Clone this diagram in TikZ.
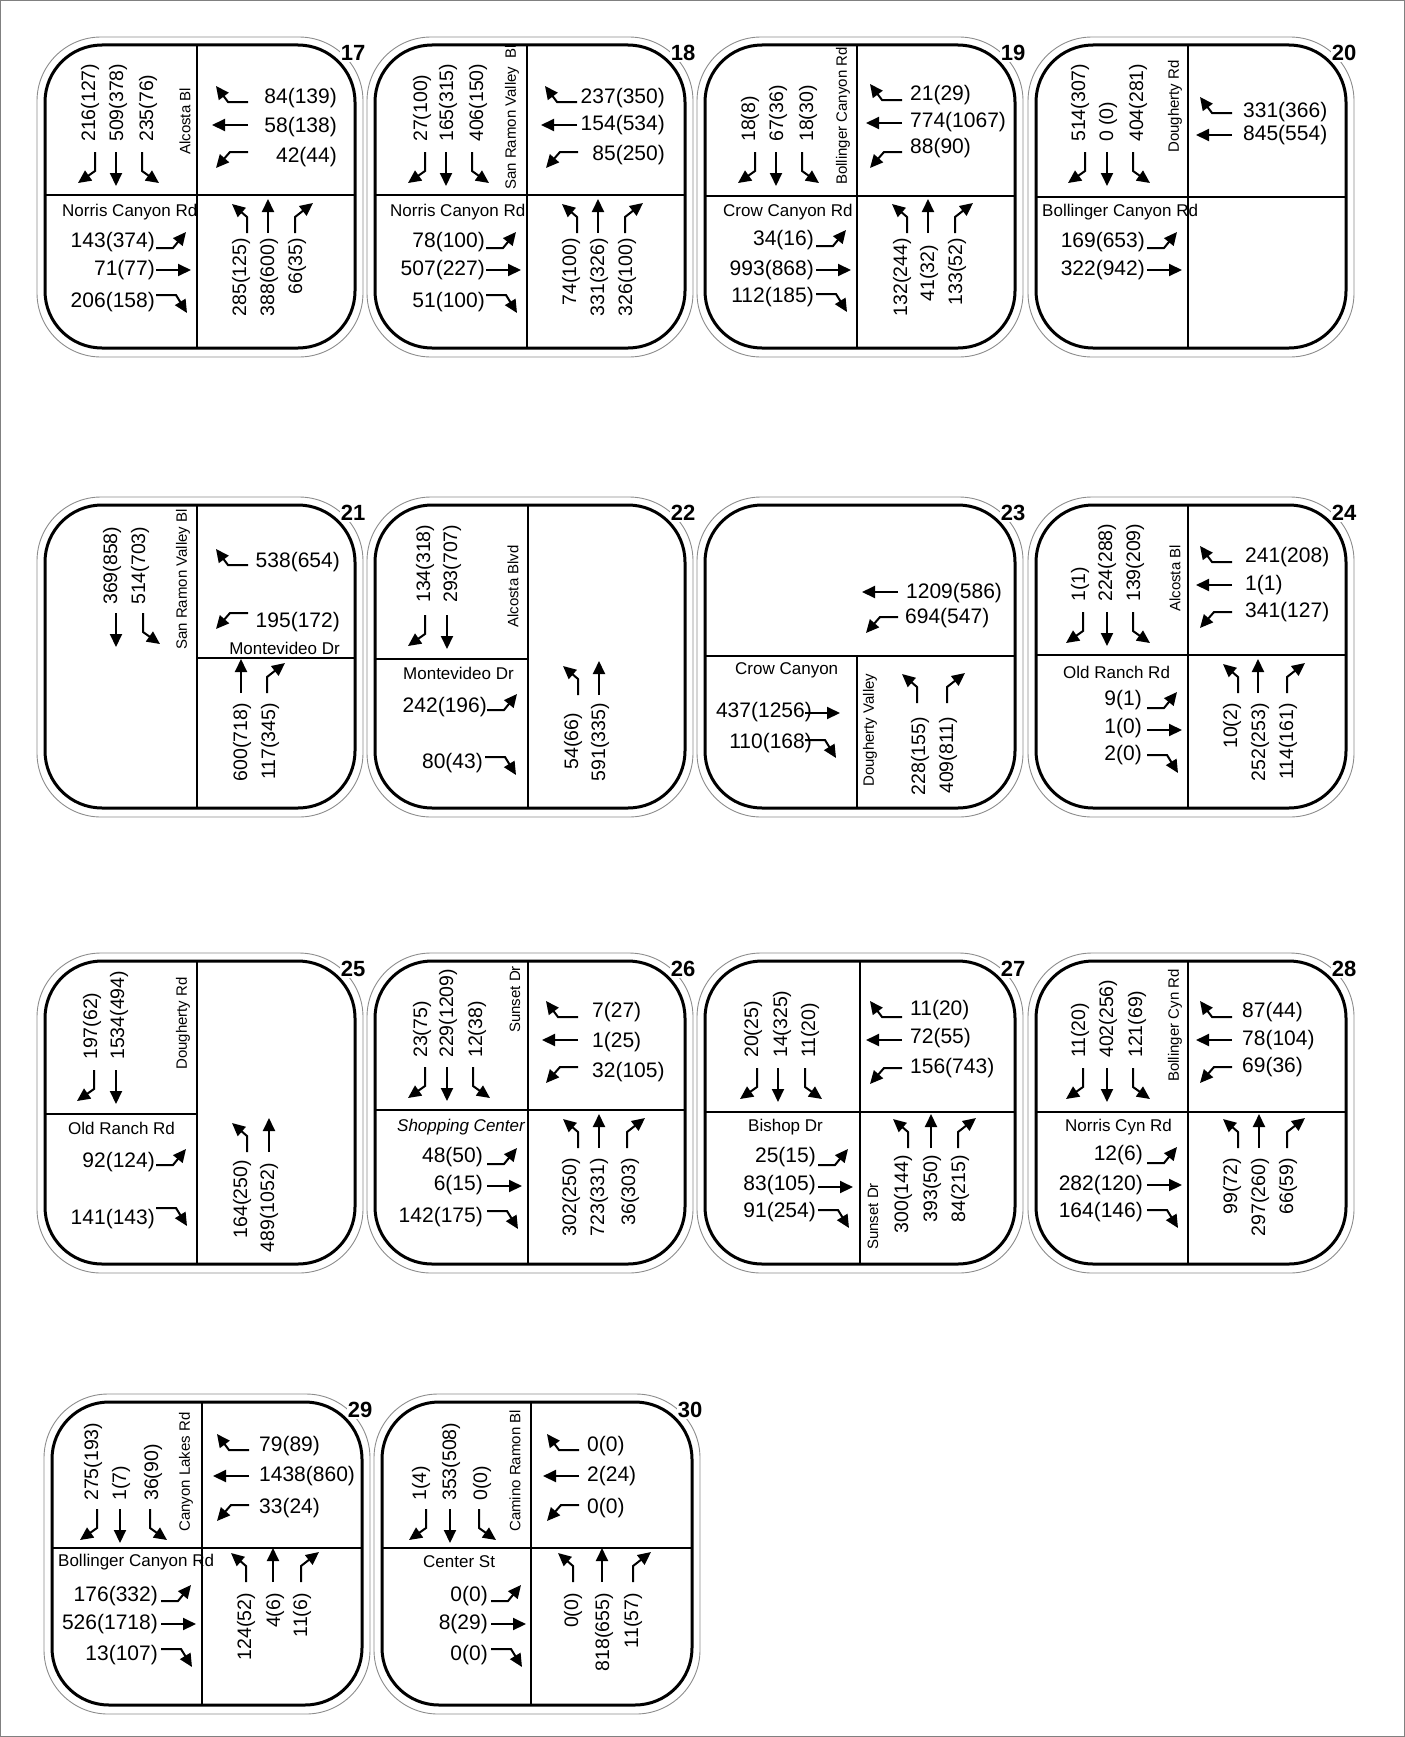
\documentclass[tikz,border=0pt]{standalone}
\usepackage{fontspec}
\setmainfont{Liberation Sans}
\usetikzlibrary{arrows.meta}

\begin{document}
\begin{tikzpicture}[
    x=1pt, y=-1pt,
    frm/.style={draw=black!45, line width=0.9pt, rounded corners=64pt},
    box/.style={draw, line width=3pt, rounded corners=57pt},
    dv/.style={line width=2.3pt},
    mv/.style={line width=2pt, -{Triangle[length=13pt,width=12pt]}},
    pno/.style={fill=white, inner sep=1pt, font=\bfseries\fontsize{22}{24}\selectfont},
    hnum/.style={inner sep=0pt, font=\fontsize{21}{22}\selectfont},
    vnum/.style={inner sep=0pt, rotate=90, font=\fontsize{19.5}{20}\selectfont},
    sbn/.style={vnum, anchor=west},
    nbn/.style={vnum, anchor=east},
    lnum/.style={hnum, anchor=west},
    rnum/.style={hnum, anchor=east},
    hst/.style={inner sep=0pt, font=\fontsize{17}{18}\selectfont},
    vst/.style={inner sep=0pt, rotate=90, anchor=west, font=\fontsize{15}{16}\selectfont},
    sbR/.pic={\draw[mv] (0,0) -- (0,19) -- (-17,31);},
    sbT/.pic={\draw[mv] (0,0) -- (0,34);},
    sbL/.pic={\draw[mv] (0,0) -- (0,19) -- (17,31);},
    wbR/.pic={\draw[mv] (0,0) -- (-20,0) -- (-32,-16);},
    wbT/.pic={\draw[mv] (0,0) -- (-36,0);},
    wbL/.pic={\draw[mv] (0,0) -- (-18,0) -- (-32,16);},
    ebL/.pic={\draw[mv] (0,0) -- (17,0) -- (30,-16);},
    ebT/.pic={\draw[mv] (0,0) -- (35,0);},
    ebR/.pic={\draw[mv] (0,0) -- (20,0) -- (31,18);},
    nbL/.pic={\draw[mv] (0,0) -- (0,-16) -- (-15,-29);},
    nbT/.pic={\draw[mv] (0,0) -- (0,-34);},
    nbR/.pic={\draw[mv] (0,0) -- (0,-16) -- (18,-30);}
]
\useasboundingbox (0,0) rectangle (1405,1737);
\draw[black!50, line width=1pt] (0.5,0.5) rectangle (1404.5,1736.5);

\foreach \px/\py/\n in {45/45/17, 375/45/18, 705/45/19, 1036/45/20,
                        45/505/21, 375/505/22, 705/505/23, 1036/505/24,
                        45/961/25, 375/961/26, 705/961/27, 1036/961/28,
                        52/1402/29, 382/1402/30} {
  \draw[frm] (\px-8,\py-8) rectangle ++(326,320);
  \node[pno] (n\n) at (\px+308,\py+8) {\n};
  \draw[box] (\px,\py) rectangle ++(310,303);
}

% 17
\begin{scope}[shift={(45,45)}]
\draw[dv] (152,0) -- (152,303) (0,150) -- (310,150);
\node[sbn] (p17s1) at (45,97) {216(127)};
\node[sbn] (p17s2) at (73,97) {509(378)};
\node[sbn] (p17s3) at (103,97) {235(76)};
\pic at (50,107) {sbR}; \pic at (71,107) {sbT}; \pic at (97,107) {sbL};
\node[vst] (p17v) at (140,110) {Alcosta Bl};
\node[rnum] (p17w1) at (292,53) {84(139)};
\node[rnum] (p17w2) at (292,82) {58(138)};
\node[rnum] (p17w3) at (292,112) {42(44)};
\pic at (203,57) {wbR}; \pic at (203,80) {wbT}; \pic at (203,107) {wbL};
\node[hst, anchor=west] (p17h) at (17,167) {Norris Canyon Rd};
\node[rnum] (p17e1) at (110,197) {143(374)};
\node[rnum] (p17e2) at (110,225) {71(77)};
\node[rnum] (p17e3) at (110,257) {206(158)};
\pic at (111,203) {ebL}; \pic at (111,225) {ebT}; \pic at (111,250) {ebR};
\pic at (202,188) {nbL}; \pic at (223,188) {nbT}; \pic at (250,188) {nbR};
\node[nbn] (p17n1) at (196,193) {285(125)};
\node[nbn] (p17n2) at (224,193) {388(600)};
\node[nbn] (p17n3) at (252,193) {66(35)};
\end{scope}

% 18
\begin{scope}[shift={(375,45)}]
\draw[dv] (152,0) -- (152,303) (0,150) -- (310,150);
\node[sbn] (p18s1) at (47,97) {27(100)};
\node[sbn] (p18s2) at (73,97) {165(315)};
\node[sbn] (p18s3) at (103,97) {406(150)};
\pic at (50,107) {sbR}; \pic at (71,107) {sbT}; \pic at (97,107) {sbL};
\node[vst] (p18v) at (137,145) {San Ramon Valley\hspace{4pt} Bl};
\node[rnum] (p18w1) at (290,53) {237(350)};
\node[rnum] (p18w2) at (290,80) {154(534)};
\node[rnum] (p18w3) at (290,110) {85(250)};
\pic at (202,57) {wbR}; \pic at (202,80) {wbT}; \pic at (203,107) {wbL};
\node[hst, anchor=west] (p18h) at (15,167) {Norris Canyon Rd};
\node[rnum] (p18e1) at (110,197) {78(100)};
\node[rnum] (p18e2) at (110,225) {507(227)};
\node[rnum] (p18e3) at (110,257) {51(100)};
\pic at (111,203) {ebL}; \pic at (111,225) {ebT}; \pic at (111,250) {ebR};
\pic at (202,188) {nbL}; \pic at (223,188) {nbT}; \pic at (250,188) {nbR};
\node[nbn] (p18n1) at (196,193) {74(100)};
\node[nbn] (p18n2) at (224,193) {331(326)};
\node[nbn] (p18n3) at (252,193) {326(100)};
\end{scope}

% 19
\begin{scope}[shift={(705,45)}]
\draw[dv] (152,0) -- (152,303) (0,151) -- (310,151);
\node[sbn] (p19s1) at (45,97) {18(8)};
\node[sbn] (p19s2) at (73,97) {67(36)};
\node[sbn] (p19s3) at (103,97) {18(30)};
\pic at (50,107) {sbR}; \pic at (71,107) {sbT}; \pic at (97,107) {sbL};
\node[vst] (p19v) at (138,140) {Bollinger Canyon Rd};
\node[lnum] (p19w1) at (205,50) {21(29)};
\node[lnum] (p19w2) at (205,77) {774(1067)};
\node[lnum] (p19w3) at (205,103) {88(90)};
\pic at (197,55) {wbR}; \pic at (197,78) {wbT}; \pic at (197,107) {wbL};
\node[hst, anchor=west] (p19h) at (18,167) {Crow Canyon Rd};
\node[rnum] (p19e1) at (109,195) {34(16)};
\node[rnum] (p19e2) at (109,225) {993(868)};
\node[rnum] (p19e3) at (109,252) {112(185)};
\pic at (111,201) {ebL}; \pic at (111,225) {ebT}; \pic at (111,249) {ebR};
\pic at (202,188) {nbL}; \pic at (223,188) {nbT}; \pic at (250,188) {nbR};
\node[nbn] (p19n1) at (197,193) {132(244)};
\node[nbn] (p19n2) at (224,200) {41(32)};
\node[nbn] (p19n3) at (252,193) {133(52)};
\end{scope}

% 20
\begin{scope}[shift={(1036,45)}]
\draw[dv] (152,0) -- (152,303) (0,152) -- (310,152);
\node[sbn] (p20s1) at (44,97) {514(307)};
\node[sbn] (p20s2) at (72,97) {0 (0)};
\node[sbn] (p20s3) at (102,97) {404(281)};
\pic at (49,107) {sbR}; \pic at (71,107) {sbT}; \pic at (97,107) {sbL};
\node[vst] (p20v) at (139,108) {Dougherty Rd};
\node[lnum] (p20w1) at (207,67) {331(366)};
\node[lnum] (p20w2) at (207,90) {845(554)};
\pic at (196,68) {wbR}; \pic at (196,90) {wbT};
\node[hst, anchor=west] (p20h) at (6,167) {Bollinger Canyon Rd};
\node[rnum] (p20e1) at (109,197) {169(653)};
\node[rnum] (p20e2) at (109,225) {322(942)};
\pic at (111,203) {ebL}; \pic at (111,225) {ebT};
\end{scope}

% 21
\begin{scope}[shift={(45,505)}]
\draw[dv] (152,0) -- (152,303) (152,153) -- (310,153);
\node[sbn] (p21s1) at (67,100) {369(858)};
\node[sbn] (p21s2) at (95,100) {514(703)};
\pic at (71,108) {sbT}; \pic at (98,108) {sbL};
\node[vst] (p21v) at (138,145) {San Ramon Valley Bl};
\node[rnum] (p21w1) at (295,57) {538(654)};
\node[rnum] (p21w2) at (295,117) {195(172)};
\pic at (203,60) {wbR}; \pic at (203,108) {wbL};
\node[hst, anchor=east] (p21h) at (295,143) {Montevideo Dr};
\pic at (196,188) {nbT}; \pic at (222,188) {nbR};
\node[nbn] (p21n1) at (197,198) {600(718)};
\node[nbn] (p21n2) at (225,198) {117(345)};
\end{scope}

% 22
\begin{scope}[shift={(375,505)}]
\draw[dv] (153,0) -- (153,303) (0,154) -- (153,154);
\node[sbn] (p22s1) at (50,98) {134(318)};
\node[sbn] (p22s2) at (77,98) {293(707)};
\pic at (50,110) {sbR}; \pic at (72,110) {sbT};
\node[vst] (p22v) at (138,123) {Alcosta Blvd};
\node[hst, anchor=west] (p22h) at (28,168) {Montevideo Dr};
\node[rnum] (p22e1) at (112,202) {242(196)};
\node[rnum] (p22e3) at (108,258) {80(43)};
\pic at (112,205) {ebL}; \pic at (110,252) {ebR};
\pic at (203,190) {nbL}; \pic at (224,190) {nbT};
\node[nbn] (p22n1) at (198,208) {54(66)};
\node[nbn] (p22n2) at (225,198) {591(335)};
\end{scope}

% 23
\begin{scope}[shift={(705,505)}]
\draw[dv] (0,151) -- (310,151) (152,151) -- (152,303);
\node[lnum] (p23w2) at (201,88) {1209(586)};
\node[lnum] (p23w3) at (200,113) {694(547)};
\pic at (193,87) {wbT}; \pic at (193,112) {wbL};
\node[hst, anchor=west] (p23h) at (30,165) {Crow Canyon};
\node[rnum] (p23e2) at (107,207) {437(1256)};
\node[rnum] (p23e3) at (107,238) {110(168)};
\pic at (100,208) {ebT}; \pic at (100,235) {ebR};
\node[vst] (p23v) at (165,282) {Dougherty Valley};
\pic at (212,198) {nbL}; \pic at (242,198) {nbR};
\node[nbn] (p23n1) at (215,212) {228(155)};
\node[nbn] (p23n3) at (243,212) {409(811)};
\end{scope}

% 24
\begin{scope}[shift={(1036,505)}]
\draw[dv] (152,0) -- (152,303) (0,150) -- (310,150);
\node[sbn] (p24s1) at (44,97) {1(1)};
\node[sbn] (p24s2) at (71,97) {224(288)};
\node[sbn] (p24s3) at (99,97) {139(209)};
\pic at (47,107) {sbR}; \pic at (71,107) {sbT}; \pic at (97,107) {sbL};
\node[vst] (p24v) at (139,107) {Alcosta Bl};
\node[lnum] (p24w1) at (209,52) {241(208)};
\node[lnum] (p24w2) at (209,80) {1(1)};
\node[lnum] (p24w3) at (209,107) {341(127)};
\pic at (196,57) {wbR}; \pic at (196,80) {wbT}; \pic at (196,107) {wbL};
\node[hst, anchor=west] (p24h) at (27,167) {Old Ranch Rd};
\node[rnum] (p24e1) at (106,195) {9(1)};
\node[rnum] (p24e2) at (106,223) {1(0)};
\node[rnum] (p24e3) at (106,250) {2(0)};
\pic at (111,203) {ebL}; \pic at (111,225) {ebT}; \pic at (111,250) {ebR};
\pic at (202,188) {nbL}; \pic at (222,188) {nbT}; \pic at (251,188) {nbR};
\node[nbn] (p24n1) at (196,198) {10(2)};
\node[nbn] (p24n2) at (224,198) {252(253)};
\node[nbn] (p24n3) at (252,198) {114(161)};
\end{scope}

% 25
\begin{scope}[shift={(45,961)}]
\draw[dv] (152,0) -- (152,303) (0,153) -- (152,153);
\node[sbn] (p25s1) at (47,99) {197(62)};
\node[sbn] (p25s2) at (74,99) {1534(494)};
\pic at (49,109) {sbR}; \pic at (71,109) {sbT};
\node[vst] (p25v) at (138,109) {Dougherty Rd};
\node[hst, anchor=west] (p25h) at (23,167) {Old Ranch Rd};
\node[rnum] (p25e1) at (110,201) {92(124)};
\node[rnum] (p25e3) at (110,258) {141(143)};
\pic at (111,204) {ebL}; \pic at (111,247) {ebR};
\pic at (202,191) {nbL}; \pic at (224,191) {nbT};
\node[nbn] (p25n1) at (197,199) {164(250)};
\node[nbn] (p25n2) at (224,202) {489(1052)};
\end{scope}

% 26
\begin{scope}[shift={(375,961)}]
\draw[dv] (153,0) -- (153,303) (0,149) -- (310,149);
\node[sbn] (p26s1) at (47,97) {23(75)};
\node[sbn] (p26s2) at (73,97) {229(1209)};
\node[sbn] (p26s3) at (102,97) {12(38)};
\pic at (50,106) {sbR}; \pic at (72,106) {sbT}; \pic at (98,106) {sbL};
\node[vst] (p26v) at (140,72) {Sunset Dr};
\node[lnum] (p26w1) at (217,51) {7(27)};
\node[lnum] (p26w2) at (217,81) {1(25)};
\node[lnum] (p26w3) at (217,111) {32(105)};
\pic at (203,56) {wbR}; \pic at (203,79) {wbT}; \pic at (203,106) {wbL};
\node[hst, anchor=west] (p26h) at (22,166) {\itshape Shopping Center};
\node[rnum] (p26e1) at (108,196) {48(50)};
\node[rnum] (p26e2) at (108,224) {6(15)};
\node[rnum] (p26e3) at (108,256) {142(175)};
\pic at (112,203) {ebL}; \pic at (112,225) {ebT}; \pic at (112,250) {ebR};
\pic at (203,187) {nbL}; \pic at (224,187) {nbT}; \pic at (252,187) {nbR};
\node[nbn] (p26n1) at (196,197) {302(250)};
\node[nbn] (p26n2) at (224,197) {723(331)};
\node[nbn] (p26n3) at (255,197) {36(303)};
\end{scope}

% 27
\begin{scope}[shift={(705,961)}]
\draw[dv] (155,0) -- (155,303) (0,151) -- (310,151);
\node[sbn] (p27s1) at (48,97) {20(25)};
\node[sbn] (p27s2) at (77,97) {14(325)};
\node[sbn] (p27s3) at (105,97) {11(20)};
\pic at (52,107) {sbR}; \pic at (73,107) {sbT}; \pic at (100,107) {sbL};
\node[lnum] (p27w1) at (205,49) {11(20)};
\node[lnum] (p27w2) at (205,77) {72(55)};
\node[lnum] (p27w3) at (205,107) {156(743)};
\pic at (197,56) {wbR}; \pic at (197,79) {wbT}; \pic at (197,107) {wbL};
\node[hst, anchor=west] (p27h) at (43,166) {Bishop Dr};
\node[rnum] (p27e1) at (111,196) {25(15)};
\node[rnum] (p27e2) at (111,224) {83(105)};
\node[rnum] (p27e3) at (111,251) {91(254)};
\pic at (113,204) {ebL}; \pic at (113,226) {ebT}; \pic at (113,249) {ebR};
\node[vst] (p27v) at (168,289) {Sunset Dr};
\pic at (203,187) {nbL}; \pic at (226,187) {nbT}; \pic at (253,187) {nbR};
\node[nbn] (p27n1) at (198,194) {300(144)};
\node[nbn] (p27n2) at (227,194) {393(50)};
\node[nbn] (p27n3) at (255,194) {84(215)};
\end{scope}

% 28
\begin{scope}[shift={(1036,961)}]
\draw[dv] (152,0) -- (152,303) (0,151) -- (310,151);
\node[sbn] (p28s1) at (44,97) {11(20)};
\node[sbn] (p28s2) at (72,97) {402(256)};
\node[sbn] (p28s3) at (101,97) {121(69)};
\pic at (47,107) {sbR}; \pic at (71,107) {sbT}; \pic at (97,107) {sbL};
\node[vst] (p28v) at (139,121) {Bollinger Cyn Rd};
\node[lnum] (p28w1) at (206,51) {87(44)};
\node[lnum] (p28w2) at (206,79) {78(104)};
\node[lnum] (p28w3) at (206,106) {69(36)};
\pic at (196,56) {wbR}; \pic at (196,79) {wbT}; \pic at (196,106) {wbL};
\node[hst, anchor=west] (p28h) at (29,166) {Norris Cyn Rd};
\node[rnum] (p28e1) at (107,194) {12(6)};
\node[rnum] (p28e2) at (107,224) {282(120)};
\node[rnum] (p28e3) at (107,251) {164(146)};
\pic at (111,202) {ebL}; \pic at (111,224) {ebT}; \pic at (111,249) {ebR};
\pic at (202,187) {nbL}; \pic at (223,187) {nbT}; \pic at (251,187) {nbR};
\node[nbn] (p28n1) at (196,197) {99(72)};
\node[nbn] (p28n2) at (224,197) {297(260)};
\node[nbn] (p28n3) at (252,197) {66(59)};
\end{scope}

% 29
\begin{scope}[shift={(52,1402)}]
\draw[dv] (150,0) -- (150,303) (0,146) -- (310,146);
\node[sbn] (p29s1) at (41,99) {275(193)};
\node[sbn] (p29s2) at (69,99) {1(7)};
\node[sbn] (p29s3) at (101,99) {36(90)};
\pic at (45,107) {sbR}; \pic at (68,107) {sbT}; \pic at (98,107) {sbL};
\node[vst] (p29v) at (134,130) {Canyon Lakes Rd};
\node[lnum] (p29w1) at (207,44) {79(89)};
\node[lnum] (p29w2) at (207,74) {1438(860)};
\node[lnum] (p29w3) at (207,106) {33(24)};
\pic at (197,48) {wbR}; \pic at (197,74) {wbT}; \pic at (197,103) {wbL};
\node[hst, anchor=west] (p29h) at (6,160) {Bollinger Canyon Rd};
\node[rnum] (p29e1) at (106,194) {176(332)};
\node[rnum] (p29e2) at (106,222) {526(1718)};
\node[rnum] (p29e3) at (106,253) {13(107)};
\pic at (109,199) {ebL}; \pic at (109,222) {ebT}; \pic at (109,247) {ebR};
\pic at (194,180) {nbL}; \pic at (221,180) {nbT}; \pic at (249,180) {nbR};
\node[nbn] (p29n1) at (194,191) {124(52)};
\node[nbn] (p29n2) at (223,191) {4(6)};
\node[nbn] (p29n3) at (250,191) {11(6)};
\end{scope}

% 30
\begin{scope}[shift={(382,1402)}]
\draw[dv] (149,0) -- (149,303) (0,146) -- (310,146);
\node[sbn] (p30s1) at (39,99) {1(4)};
\node[sbn] (p30s2) at (69,99) {353(508)};
\node[sbn] (p30s3) at (100,99) {0(0)};
\pic at (44,107) {sbR}; \pic at (68,107) {sbT}; \pic at (97,107) {sbL};
\node[vst] (p30v) at (133,130) {Camino Ramon Bl};
\node[lnum] (p30w1) at (205,44) {0(0)};
\node[lnum] (p30w2) at (205,74) {2(24)};
\node[lnum] (p30w3) at (205,106) {0(0)};
\pic at (197,48) {wbR}; \pic at (197,74) {wbT}; \pic at (197,103) {wbL};
\node[hst, anchor=west] (p30h) at (41,160) {Center St};
\node[rnum] (p30e1) at (106,194) {0(0)};
\node[rnum] (p30e2) at (106,222) {8(29)};
\node[rnum] (p30e3) at (106,253) {0(0)};
\pic at (109,199) {ebL}; \pic at (109,222) {ebT}; \pic at (109,247) {ebR};
\pic at (191,180) {nbL}; \pic at (220,180) {nbT}; \pic at (251,180) {nbR};
\node[nbn] (p30n1) at (191,191) {0(0)};
\node[nbn] (p30n2) at (222,191) {818(655)};
\node[nbn] (p30n3) at (251,191) {11(57)};
\end{scope}
\end{tikzpicture}
\end{document}
